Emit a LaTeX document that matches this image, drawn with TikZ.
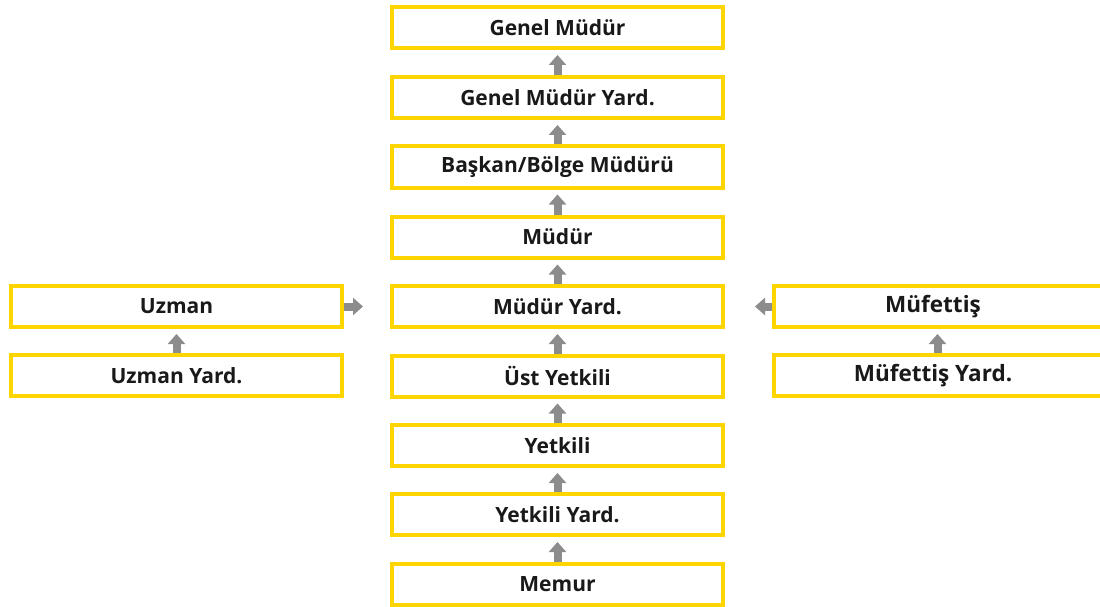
\documentclass[tikz,border=0pt]{standalone}
\usepackage{fontspec}
\setmainfont{Open Sans}
\usetikzlibrary{arrows.meta}
\definecolor{boxyellow}{HTML}{FFD500}
\definecolor{arrowgray}{HTML}{8C8C8C}
\tikzset{
  orgbox/.style={draw=boxyellow, line width=4pt, fill=white, minimum width=331pt, minimum height=41pt, inner sep=0pt, font=\fontsize{21}{25}\selectfont\bfseries, text=black!90},
  bigtext/.style={font=\fontsize{22.5}{26}\selectfont\bfseries, text=black!90},
  uparrow/.style={draw=arrowgray, line width=8pt, -{Triangle[width=17pt,length=10pt]}, shorten >=5pt}
}
\begin{document}
\begin{tikzpicture}[x=1pt,y=-1pt]
\useasboundingbox (0,0) rectangle (1100,607);
\node[orgbox] (gm)   at (557.5,27.5)  {Genel Müdür};
\node[orgbox] (gmy)  at (557.5,97.5)  {Genel Müdür Yard.};
\node[orgbox] (bm)   at (557.5,167)   {Başkan/Bölge Müdürü};
\node[orgbox] (m)    at (557.5,237)   {Müdür};
\node[orgbox] (my)   at (557.5,306.5) {Müdür Yard.};
\node[orgbox] (uy)   at (557.5,376)   {Üst Yetkili};
\node[orgbox] (y)    at (557.5,445.5) {Yetkili};
\node[orgbox] (yy)   at (557.5,514.5) {Yetkili Yard.};
\node[orgbox] (me)   at (557.5,584)   {Memur};
\node[orgbox] (uz)   at (176.5,306.5) {Uzman};
\node[orgbox] (uzy)  at (176.5,375.5) {Uzman Yard.};
\node[orgbox] (mf)   at (939.5,306.5) {};
\node[orgbox] (mfy)  at (939.5,375.5) {};
\node[bigtext] (mft) at (933,306.5) {Müfettiş};
\node[bigtext] (mfyt) at (933,375.5) {Müfettiş Yard.};
\draw[uparrow] (gmy.north) -- (gm.south);
\draw[uparrow] (bm.north) -- (gmy.south);
\draw[uparrow] (m.north) -- (bm.south);
\draw[uparrow] (my.north) -- (m.south);
\draw[uparrow] (uy.north) -- (my.south);
\draw[uparrow] (y.north) -- (uy.south);
\draw[uparrow] (yy.north) -- (y.south);
\draw[uparrow] (me.north) -- (yy.south);
\draw[uparrow] (uzy.north) -- (uz.south);
\draw[uparrow] ([xshift=-2pt]mfy.north) -- ([xshift=-2pt]mf.south);
\draw[uparrow, shorten >=27pt] (uz.east) -- (my.west);
\draw[uparrow, shorten >=30pt] (mf.west) -- (my.east);
\end{tikzpicture}
\end{document}
